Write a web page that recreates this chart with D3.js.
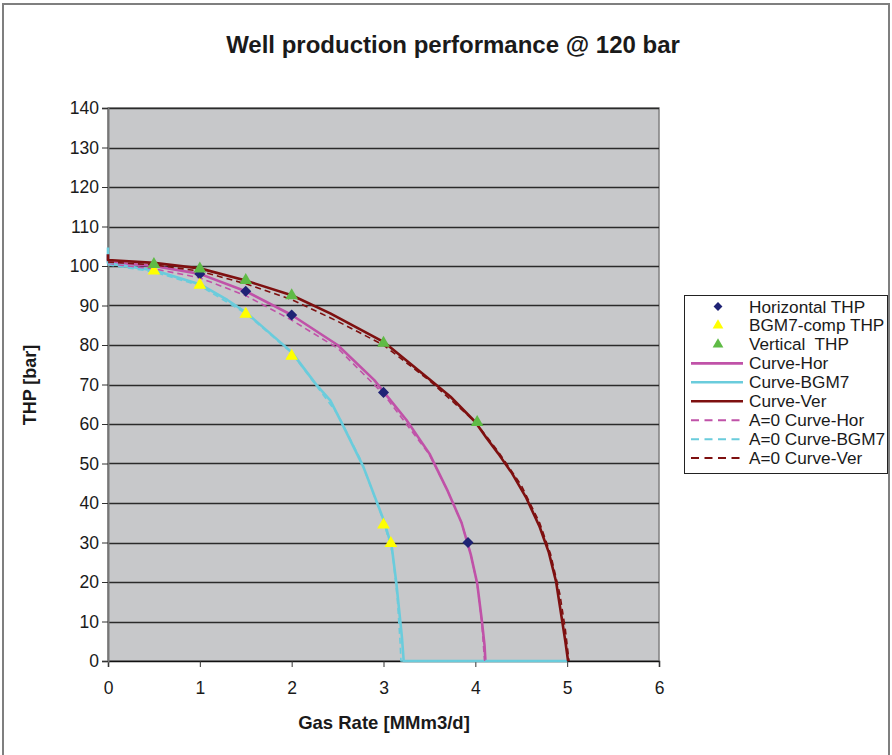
<!DOCTYPE html>
<html><head><meta charset="utf-8">
<script src="https://cdn.jsdelivr.net/npm/d3@7"></script>
<style>
html,body{margin:0;padding:0;background:#fff;}
svg{display:block;font-family:"Liberation Sans",Arial,sans-serif;}
</style></head>
<body>
<svg id="chart" width="892" height="755"></svg>
<script>
// ---- data ----
const title = "Well production performance @ 120 bar";
const xLabel = "Gas Rate [MMm3/d]";
const yLabel = "THP [bar]";
const xTicks = [0,1,2,3,4,5,6];
const yTicks = [0,10,20,30,40,50,60,70,80,90,100,110,120,130,140];

// measured points
const horRate = [1, 1.5, 2, 3, 3.92];
const horTHP  = [98, 93.6, 87.6, 68, 30];
const bgmRate = [0.5, 1, 1.5, 2, 3, 3.08];
const bgmTHP  = [98.8, 95.2, 87.8, 77.2, 34.5, 29.8];
const verRate = [0.5, 1, 1.5, 2, 3, 4.02];
const verTHP  = [100.4, 99.3, 96.4, 92.5, 80.5, 60.4];

// model curves (solid)
const curveHorRate = [0, 0, 0.5, 1, 1.5, 2, 2.5, 2.9, 3, 3.25, 3.5, 3.7, 3.85, 3.95, 4.02, 4.07, 4.1, 4.11];
const curveHorTHP  = [103, 101, 100, 98, 93.6, 87.6, 80, 71.1, 68.2, 61, 52.5, 43, 35, 27, 19.7, 10.4, 4, 0];
const curveBgmRate = [0, 0, 0.5, 1, 1.3, 1.5, 2, 2.27, 2.42, 2.53, 2.78, 3.0, 3.09, 3.14, 3.2, 3.22, 5.0];
const curveBgmTHP  = [104.7, 100.7, 98.9, 95.4, 91.4, 88.3, 78.2, 69.9, 66, 61, 49.2, 35.8, 28.9, 19.7, 6.2, 0, 0];
const curveVerRate = [0, 0, 0.5, 1, 1.5, 2, 2.42, 3, 3.5, 3.73, 4.0, 4.12, 4.25, 4.4, 4.55, 4.7, 4.8, 4.88, 4.94, 4.98, 5.01];
const curveVerTHP  = [103, 101.5, 100.8, 99.4, 96.3, 92.6, 88, 80.8, 71.3, 66.9, 60.5, 56.5, 52.5, 47.5, 41.5, 34, 27.5, 20, 11, 5, 0];

// A=0 curves (dashed)
const a0HorRate = [0, 0.5, 1, 1.5, 2, 2.5, 3, 3.5, 3.7, 3.85, 3.95, 4.02, 4.07, 4.1];
const a0HorTHP  = [100.5, 99.3, 97, 92.5, 86.3, 79.2, 67.6, 52.3, 43, 35, 27, 19.5, 10, 0];
const a0BgmRate = [0, 0.5, 1, 1.5, 2, 2.5, 2.75, 3, 3.1, 3.15, 3.18, 3.19, 5.0];
const a0BgmTHP  = [100.3, 98.5, 95, 88, 78, 62.5, 51, 35.5, 27, 16, 5, 0, 0];
const a0VerRate = [0, 0.5, 1, 1.5, 2, 2.5, 3, 3.5, 4, 4.25, 4.5, 4.7, 4.82, 4.92, 4.98, 5.02];
const a0VerTHP  = [101, 100.3, 98.7, 95.5, 91.5, 86, 80, 71, 60.5, 53, 44.5, 35, 27, 17, 8, 0];

const colHor = "#c052a8", colBgm = "#6accdc", colVer = "#7e1010";
const colDiamond = "#1f2375", colYellow = "#ffff00", colGreen = "#5fbb46";

// ---- drawing ----
const svg = d3.select("#chart");
const L = 108, R = 659, T = 108, B = 661;
const x = d3.scaleLinear().domain([0,6]).range([L,R]);
const y = d3.scaleLinear().domain([0,140]).range([B,T]);

// outer frame
svg.append("rect").attr("x",3).attr("y",4).attr("width",886).attr("height",760)
  .attr("fill","#fff").attr("stroke","#7f7f7f").attr("stroke-width",2);

svg.append("text").attr("x",453).attr("y",53).attr("text-anchor","middle")
  .attr("font-size",24).attr("font-weight","bold").attr("fill","#1a1a1a").text(title);

// plot area
svg.append("rect").attr("x",L).attr("y",T).attr("width",R-L).attr("height",B-T)
  .attr("fill","#c7c8ca").attr("stroke","#808080").attr("stroke-width",1.5);

// grid
svg.append("g").selectAll("line").data(yTicks.filter(d=>d>0)).join("line")
  .attr("x1",L).attr("x2",R).attr("y1",d=>Math.round(y(d))+0.5).attr("y2",d=>Math.round(y(d))+0.5)
  .attr("stroke","#2a2a2a").attr("stroke-width",1.3);

// axes
const gx = svg.append("g").attr("transform",`translate(0,${B})`)
  .call(d3.axisBottom(x).tickValues(xTicks).tickSize(6).tickPadding(15).tickFormat(d3.format("d")));
const gy = svg.append("g").attr("transform",`translate(${L},0)`)
  .call(d3.axisLeft(y).tickValues(yTicks).tickSize(6).tickPadding(3).tickFormat(d3.format("d")));
[gx,gy].forEach(g=>{
  g.selectAll("text").attr("font-size",17.5).attr("fill","#1a1a1a").attr("font-family","\"Liberation Sans\",Arial,sans-serif");
  g.selectAll("line").attr("stroke","#333");
});
gx.select(".domain").attr("stroke","#111").attr("stroke-width",1.5);
gy.select(".domain").attr("stroke","#777").attr("stroke-width",2);

svg.append("text").attr("x",384).attr("y",729).attr("text-anchor","middle")
  .attr("font-size",18.5).attr("font-weight","bold").attr("fill","#1a1a1a").text(xLabel);
svg.append("text").attr("transform","translate(36,385) rotate(-90)").attr("text-anchor","middle")
  .attr("font-size",18).attr("font-weight","bold").attr("fill","#1a1a1a").text(yLabel);

// curves
const zip = (a,b)=>a.map((v,i)=>[v,b[i]]);
const line = d3.line().x(d=>x(d[0])).y(d=>y(d[1]));
const curves = [
  {r:curveHorRate, t:curveHorTHP, c:colHor, dash:null},
  {r:curveBgmRate, t:curveBgmTHP, c:colBgm, dash:null},
  {r:curveVerRate, t:curveVerTHP, c:colVer, dash:null},
  {r:a0HorRate, t:a0HorTHP, c:colHor, dash:"6,4"},
  {r:a0BgmRate, t:a0BgmTHP, c:colBgm, dash:"6,4"},
  {r:a0VerRate, t:a0VerTHP, c:colVer, dash:"6,4"},
];
curves.forEach(cv=>{
  svg.append("path").datum(zip(cv.r,cv.t)).attr("d",line).attr("fill","none")
    .attr("stroke",cv.c).attr("stroke-width",cv.dash?1.6:2.6)
    .attr("stroke-dasharray",cv.dash).attr("stroke-linejoin","round");
});

// markers
const diamond = d3.symbol().type(d3.symbolDiamond2).size(78);
const tri = d3.symbol().type(d3.symbolTriangle).size(70);
svg.append("g").selectAll("path").data(zip(horRate,horTHP)).join("path")
  .attr("d",diamond).attr("transform",d=>`translate(${x(d[0])},${y(d[1])})`).attr("fill",colDiamond);
svg.append("g").selectAll("path").data(zip(bgmRate,bgmTHP)).join("path")
  .attr("d",tri).attr("transform",d=>`translate(${x(d[0])},${y(d[1])})`).attr("fill",colYellow);
svg.append("g").selectAll("path").data(zip(verRate,verTHP)).join("path")
  .attr("d",tri).attr("transform",d=>`translate(${x(d[0])},${y(d[1])})`).attr("fill",colGreen);

// legend
const legendItems = [
  {label:"Horizontal THP", type:"diamond", c:colDiamond},
  {label:"BGM7-comp THP", type:"tri", c:colYellow},
  {label:"Vertical  THP", type:"tri", c:colGreen},
  {label:"Curve-Hor", type:"line", c:colHor},
  {label:"Curve-BGM7", type:"line", c:colBgm},
  {label:"Curve-Ver", type:"line", c:colVer},
  {label:"A=0 Curve-Hor", type:"dash", c:colHor},
  {label:"A=0 Curve-BGM7", type:"dash", c:colBgm},
  {label:"A=0 Curve-Ver", type:"dash", c:colVer},
];
const lg = svg.append("g");
lg.append("rect").attr("x",684.5).attr("y",295.5).attr("width",203).attr("height",178)
  .attr("fill","#fff").attr("stroke","#222").attr("stroke-width",1);
legendItems.forEach((it,i)=>{
  const cy = 306.5 + i*18.95;
  if(it.type==="diamond"){
    lg.append("path").attr("d",d3.symbol().type(d3.symbolDiamond2).size(50)).attr("transform",`translate(718,${cy})`).attr("fill",it.c);
  } else if(it.type==="tri"){
    lg.append("path").attr("d",d3.symbol().type(d3.symbolTriangle).size(50)).attr("transform",`translate(718,${cy})`).attr("fill",it.c);
  } else {
    lg.append("line").attr("x1",691).attr("x2",743).attr("y1",cy).attr("y2",cy)
      .attr("stroke",it.c).attr("stroke-width",it.type==="dash"?2:2.6)
      .attr("stroke-dasharray",it.type==="dash"?"8,5.5":null);
  }
  lg.append("text").attr("x",749).attr("y",cy+6).attr("font-size",17.2).attr("fill","#1a1a1a")
    .attr("xml:space","preserve").style("white-space","pre").text(it.label);
});
</script>
</body></html>
